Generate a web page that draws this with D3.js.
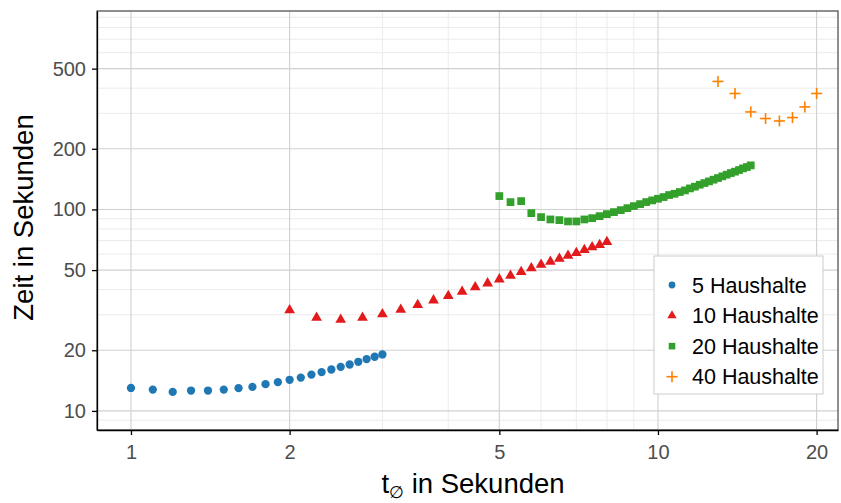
<!DOCTYPE html>
<html>
<head>
<meta charset="utf-8">
<script src="https://cdn.jsdelivr.net/npm/d3@7"></script>
<style>
  body { margin: 0; background: #fff; }
  svg text { font-family: "Liberation Sans", Arial, Helvetica, sans-serif; }
</style>
</head>
<body>
<svg id="chart" width="841" height="503"></svg>
<script>
// ---- data ----
const x5  = [1.0,1.1,1.2,1.3,1.4,1.5,1.6,1.7,1.8,1.9,2.0,2.1,2.2,2.3,2.4,2.5,2.6,2.7,2.8,2.9,3.0];
const y5  = [13.0,12.76,12.43,12.62,12.62,12.76,12.97,13.16,13.58,13.89,14.27,14.64,15.15,15.58,16.05,16.55,17.0,17.53,18.08,18.57,19.06];

const x10 = [2,2.25,2.5,2.75,3,3.25,3.5,3.75,4,4.25,4.5,4.75,5,5.25,5.5,5.75,6,6.25,6.5,6.75,7,7.25,7.5,7.75,8];
const y10 = [31.6,29.0,28.4,29.0,30.2,31.8,33.6,35.4,37.2,39.1,41.1,43.0,45.0,46.9,49.0,51.1,53.2,55.1,57.0,59.0,60.9,62.9,64.9,66.7,69.0];

const x20 = [5,5.25,5.5,5.75,6,6.25,6.5,6.75,7,7.25,7.5,7.75,8,8.25,8.5,8.75,9,9.25,9.5,9.75,10,10.25,10.5,10.75,11,11.25,11.5,11.75,12,12.25,12.5,12.75,13,13.25,13.5,13.75,14,14.25,14.5,14.75,15];
const y20 = [116.5,108.7,110.0,95.9,91.6,89.2,88.5,87.2,87.2,89.2,90.5,92.6,94.8,97.0,99.2,101.5,103.9,106.3,108.8,110.9,113.0,115.2,117.9,119.6,122.0,124.3,127.2,129.7,132.6,135.2,137.8,140.5,143.2,146.0,148.8,151.6,154.0,156.9,159.9,162.4,165.5];

const x40 = [13,14,15,16,17,18,19,20];
const y40 = [431.9,376.3,304.8,282.7,274.9,285.8,322.8,376.3];

const seriesNames  = ["5 Haushalte","10 Haushalte","20 Haushalte","40 Haushalte"];
const seriesColors = ["#1f78b4","#e31a1c","#33a02c","#ff7f00"];

const xMajor = [1,2,5,10,20];
const xMinor = [3,4,6,7,8,9];
const yMajor = [10,20,50,100,200,500];
const yMinor = [9,30,40,60,70,80,90,300,400,600,700,800,900];

const xDomain = [0.862, 21.96];
const yDomain = [8.04, 966];

// ---- layout ----
const svg = d3.select("#chart");
const L = 97, R = 838, T = 11, B = 430;

const x = d3.scaleLog().domain(xDomain).range([L, R]);
const y = d3.scaleLog().domain(yDomain).range([B, T]);

svg.append("rect").attr("x", L).attr("y", T).attr("width", R - L).attr("height", B - T).attr("fill", "#fff");

// grid
const grid = svg.append("g");
grid.selectAll(".xmin").data(xMinor).enter().append("line")
  .attr("x1", d => x(d)).attr("x2", d => x(d)).attr("y1", T).attr("y2", B)
  .attr("stroke", "#ebebeb").attr("stroke-width", 1);
grid.selectAll(".ymin").data(yMinor).enter().append("line")
  .attr("y1", d => y(d)).attr("y2", d => y(d)).attr("x1", L).attr("x2", R)
  .attr("stroke", "#ebebeb").attr("stroke-width", 1);
grid.selectAll(".xmaj").data(xMajor).enter().append("line")
  .attr("x1", d => x(d)).attr("x2", d => x(d)).attr("y1", T).attr("y2", B)
  .attr("stroke", "#d0d0d0").attr("stroke-width", 1.1);
grid.selectAll(".ymaj").data(yMajor).enter().append("line")
  .attr("y1", d => y(d)).attr("y2", d => y(d)).attr("x1", L).attr("x2", R)
  .attr("stroke", "#d0d0d0").attr("stroke-width", 1.1);

// panel border
svg.append("rect").attr("x", L).attr("y", T).attr("width", R - L).attr("height", B - T)
  .attr("fill", "none").attr("stroke", "#333").attr("stroke-width", 1.1);

// axes
const xAxis = d3.axisBottom(x).tickValues(xMajor).tickFormat(d3.format("d")).tickSizeInner(5).tickSizeOuter(0).tickPadding(6);
const yAxis = d3.axisLeft(y).tickValues(yMajor).tickFormat(d3.format("d")).tickSizeInner(5).tickSizeOuter(0).tickPadding(6);

const gx = svg.append("g").attr("transform", `translate(0,${B})`).call(xAxis);
const gy = svg.append("g").attr("transform", `translate(${L},0)`).call(yAxis);
[gx, gy].forEach(g => {
  g.select(".domain").attr("stroke", "#000").attr("stroke-width", 1.3);
  g.selectAll(".tick line").attr("stroke", "#000").attr("stroke-width", 1.3);
  g.selectAll(".tick text").attr("fill", "#4d4d4d").attr("font-size", 20)
    .attr("font-family", "'Liberation Sans', Arial, sans-serif");
});
gx.selectAll(".tick text").attr("dy", "0.9em");

// axis titles
const xt = svg.append("text").attr("x", 473).attr("y", 493)
  .attr("text-anchor", "middle").attr("font-size", 27.5).attr("fill", "#000");
xt.append("tspan").text("t");
xt.append("tspan").attr("font-size", 17).attr("dy", 5).text("∅");
xt.append("tspan").attr("dy", -5).text(" in Sekunden");

svg.append("text").attr("transform", `translate(33,${(T + B) / 2 - 3}) rotate(-90)`)
  .attr("text-anchor", "middle").attr("font-size", 27.5).attr("fill", "#000")
  .text("Zeit in Sekunden");

// ---- data marks ----
const marks = svg.append("g");
const d5 = x5.map((v, i) => [v, y5[i]]);
const d10 = x10.map((v, i) => [v, y10[i]]);
const d20 = x20.map((v, i) => [v, y20[i]]);
const d40 = x40.map((v, i) => [v, y40[i]]);

const circ = d3.symbol().type(d3.symbolCircle).size(54);
const tri  = d3.symbol().type(d3.symbolTriangle).size(50);
const sq   = d3.symbol().type(d3.symbolSquare).size(60);

marks.selectAll(".p5").data(d5).enter().append("path")
  .attr("d", circ).attr("transform", d => `translate(${x(d[0])},${y(d[1])})`)
  .attr("fill", seriesColors[0]);
marks.selectAll(".p10").data(d10).enter().append("path")
  .attr("d", tri).attr("transform", d => `translate(${x(d[0])},${y(d[1])})`)
  .attr("fill", seriesColors[1]);
marks.selectAll(".p20").data(d20).enter().append("path")
  .attr("d", sq).attr("transform", d => `translate(${x(d[0])},${y(d[1])})`)
  .attr("fill", seriesColors[2]);

function plus(g, cx, cy, half, color, sw) {
  g.append("line").attr("x1", cx - half).attr("x2", cx + half).attr("y1", cy).attr("y2", cy)
    .attr("stroke", color).attr("stroke-width", sw);
  g.append("line").attr("x1", cx).attr("x2", cx).attr("y1", cy - half).attr("y2", cy + half)
    .attr("stroke", color).attr("stroke-width", sw);
}
d40.forEach(d => plus(marks, x(d[0]), y(d[1]), 5.5, seriesColors[3], 1.6));

// ---- legend ----
const lg = svg.append("g");
lg.append("rect").attr("x", 654).attr("y", 256).attr("width", 169).attr("height", 138)
  .attr("fill", "#fff").attr("stroke", "#cccccc").attr("stroke-width", 1);
const rowY = d3.scalePoint().domain(seriesNames).range([285, 376.7]);
seriesNames.forEach((name, i) => {
  const cy = rowY(name), cx = 672;
  if (i === 0) lg.append("path").attr("d", d3.symbol().type(d3.symbolCircle).size(36)).attr("transform", `translate(${cx},${cy})`).attr("fill", seriesColors[0]);
  if (i === 1) lg.append("path").attr("d", d3.symbol().type(d3.symbolTriangle).size(38)).attr("transform", `translate(${cx},${cy})`).attr("fill", seriesColors[1]);
  if (i === 2) lg.append("path").attr("d", d3.symbol().type(d3.symbolSquare).size(44)).attr("transform", `translate(${cx},${cy})`).attr("fill", seriesColors[2]);
  if (i === 3) plus(lg, cx, cy, 5.5, seriesColors[3], 1.6);
  lg.append("text").attr("x", 692).attr("y", cy).attr("dy", "0.36em")
    .attr("font-size", 21.5).attr("fill", "#000").text(name);
});
</script>
</body>
</html>
